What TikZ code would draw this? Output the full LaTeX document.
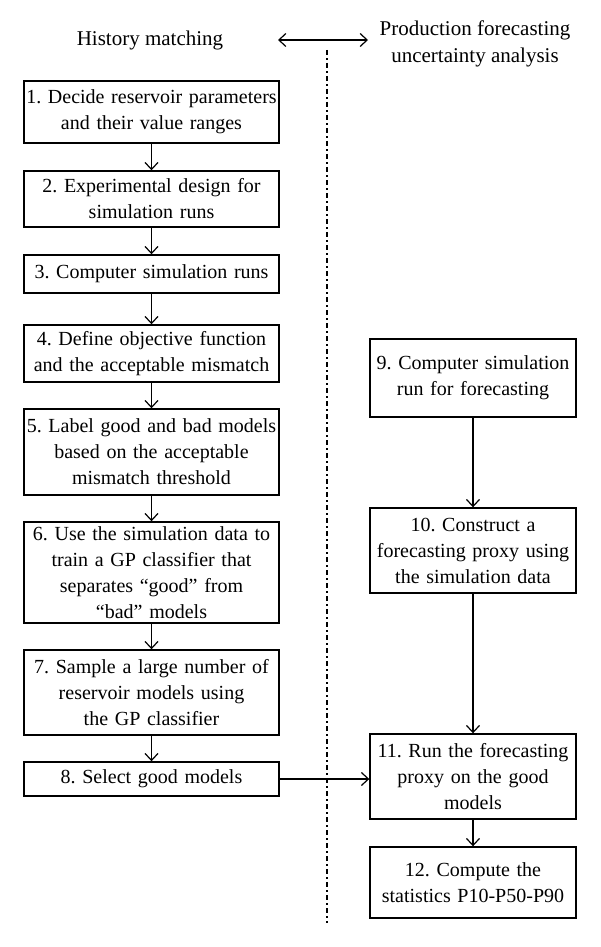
\documentclass[tikz,border=0pt]{standalone}
\usepackage{fontspec}
\setmainfont{Liberation Serif}
\usetikzlibrary{arrows.meta}
\frenchspacing
\hyphenpenalty=10000
\tikzset{
	caja/.style={draw,line width=0.7pt,align=center,inner ysep=0pt,
		font=\fontsize{10pt}{13pt}\selectfont},
	cajaizq/.style={caja,text width=127.5pt,inner xsep=0pt},
	cajader/.style={caja,text width=103pt,inner xsep=0pt},
	flecha/.style={line width=0.6pt,-{Straight Barb[length=3.5pt,width=6.5pt]}},
	titulo/.style={align=center,font=\fontsize{10.5pt}{13.5pt}\selectfont}
}
\begin{document}
\begin{tikzpicture}[x=0.5pt,y=-0.5pt]
\useasboundingbox (0,0) rectangle (600,947);
% encabezados
\node[titulo] (hm) at (150,40) {History matching};
\node[titulo] (pf) at (475,44) {Production forecasting\\uncertainty analysis};
\coordinate (fl) at (278,40);
\coordinate (fr) at (368,40);
\draw[line width=0.6pt,{Straight Barb[length=3.5pt,width=6.5pt]}-{Straight Barb[length=3.5pt,width=6.5pt]}] (fl) -- (fr);
% linea divisoria
\coordinate (d1) at (327,50);
\coordinate (d2) at (327,923);
\draw[line width=0.6pt,dash pattern=on 2.5pt off 1.7pt on 0.6pt off 1.7pt] (d1) -- (d2);
% columna izquierda
\node[cajaizq,minimum height=31pt] (b1) at (151.5,112) {1. Decide reservoir parameters\\and their value ranges};
\node[cajaizq,minimum height=28pt] (b2) at (151.5,199) {2. Experimental design for\\simulation runs};
\node[cajaizq,minimum height=19pt] (b3) at (151.5,274) {3. Computer simulation runs};
\node[cajaizq,minimum height=28.5pt] (b4) at (151.5,353.5) {4. Define objective function\\and the acceptable mismatch};
\node[cajaizq,minimum height=43pt] (b5) at (151.5,452) {5. Label good and bad models\\based on the acceptable\\mismatch threshold};
\node[cajaizq,minimum height=50.5pt] (b6) at (151.5,572.5) {6. Use the simulation data to\\train a GP classifier that\\separates ``good'' from\\``bad'' models};
\node[cajaizq,minimum height=42.5pt] (b7) at (151.5,692.5) {7. Sample a large number of\\reservoir models using\\the GP classifier};
\node[cajaizq,minimum height=17pt] (b8) at (151.5,779) {8. Select good models};
% columna derecha
\node[cajader,minimum height=39pt] (b9) at (473,378) {9. Computer simulation\\run for forecasting};
\node[cajader,minimum height=42.5pt] (b10) at (473,550.5) {10. Construct a\\forecasting proxy using\\the simulation data};
\node[cajader,minimum height=42.5pt] (b11) at (473,776.5) {11. Run the forecasting\\proxy on the good\\models};
\node[cajader,minimum height=35.5pt] (b12) at (473,882.5) {12. Compute the\\statistics P10-P50-P90};
% flechas
\foreach \De/\A in {b1/b2,b2/b3,b3/b4,b4/b5,b5/b6,b6/b7,b7/b8,b9/b10,b10/b11,b11/b12}
{
	\draw[flecha] (\De) -- (\A);
}
\draw[flecha] (b8.east) -- (b8.east -| b11.west);
\end{tikzpicture}
\end{document}
